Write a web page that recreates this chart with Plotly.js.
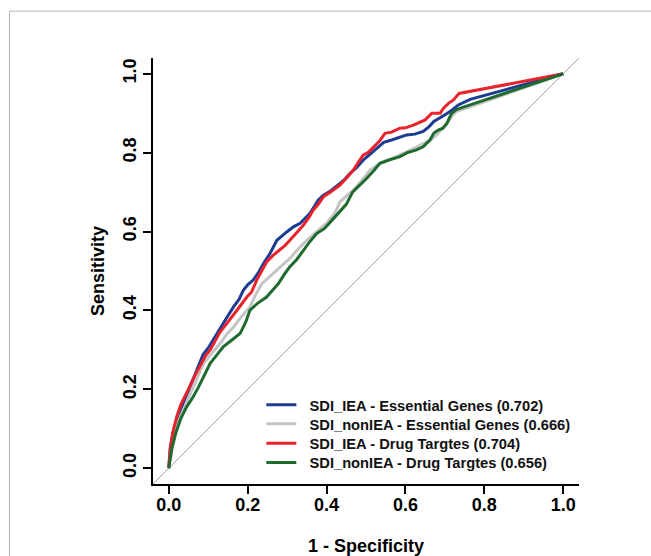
<!DOCTYPE html>
<html>
<head>
<meta charset="utf-8">
<script src="https://cdn.plot.ly/plotly-3.0.1.min.js"></script>
<style>html,body{margin:0;padding:0;background:#fff;}#chart{width:651px;height:556px;}</style>
</head>
<body>
<div id="chart"></div>
<script>
// ---- data ----
var seriesNames = [
  "SDI_IEA - Essential Genes (0.702)",
  "SDI_nonIEA - Essential Genes (0.666)",
  "SDI_IEA - Drug Targtes (0.704)",
  "SDI_nonIEA - Drug Targtes (0.656)"
];
var seriesColors = ["#1c3c94", "#c4c4c4", "#e8232b", "#1f6a2f"];

var fprIEAEss = [0, 0.004, 0.012, 0.022, 0.035, 0.05, 0.065, 0.077, 0.087, 0.1, 0.118, 0.13, 0.143, 0.164, 0.178, 0.189, 0.2, 0.214, 0.228, 0.240, 0.257, 0.274, 0.285, 0.299, 0.316, 0.333, 0.345, 0.358, 0.368, 0.379, 0.392, 0.41, 0.434, 0.447, 0.459, 0.476, 0.493, 0.51, 0.527, 0.545, 0.565, 0.582, 0.603, 0.624, 0.645, 0.66, 0.672, 0.692, 0.713, 0.734, 0.764, 1];
var tprIEAEss = [0, 0.055, 0.096, 0.13, 0.16, 0.198, 0.235, 0.262, 0.288, 0.305, 0.333, 0.355, 0.375, 0.409, 0.428, 0.451, 0.465, 0.477, 0.497, 0.519, 0.545, 0.578, 0.588, 0.599, 0.612, 0.621, 0.633, 0.646, 0.662, 0.680, 0.692, 0.703, 0.722, 0.733, 0.747, 0.762, 0.781, 0.795, 0.811, 0.826, 0.832, 0.837, 0.845, 0.847, 0.854, 0.866, 0.879, 0.891, 0.904, 0.921, 0.935, 1];

var fprNonEss = [0, 0.006, 0.015, 0.027, 0.04, 0.051, 0.065, 0.077, 0.088, 0.1, 0.115, 0.130, 0.147, 0.164, 0.185, 0.206, 0.22, 0.236, 0.255, 0.274, 0.29, 0.307, 0.328, 0.350, 0.375, 0.4, 0.42, 0.434, 0.45, 0.468, 0.49, 0.510, 0.527, 0.544, 0.57, 0.595, 0.62, 0.645, 0.665, 0.679, 0.692, 0.705, 0.718, 0.730, 0.76, 1];
var tprNonEss = [0, 0.05, 0.09, 0.125, 0.155, 0.181, 0.21, 0.24, 0.266, 0.28, 0.298, 0.316, 0.34, 0.358, 0.385, 0.409, 0.44, 0.468, 0.485, 0.502, 0.515, 0.532, 0.556, 0.578, 0.6, 0.621, 0.645, 0.675, 0.69, 0.705, 0.73, 0.756, 0.767, 0.777, 0.787, 0.798, 0.81, 0.823, 0.833, 0.845, 0.86, 0.874, 0.893, 0.905, 0.915, 1];

var fprIEADrug = [0, 0.004, 0.01, 0.02, 0.03, 0.041, 0.052, 0.066, 0.075, 0.084, 0.093, 0.105, 0.117, 0.13, 0.145, 0.164, 0.18, 0.198, 0.21, 0.223, 0.235, 0.248, 0.265, 0.282, 0.295, 0.307, 0.325, 0.341, 0.355, 0.366, 0.378, 0.392, 0.41, 0.434, 0.45, 0.468, 0.48, 0.493, 0.505, 0.519, 0.535, 0.548, 0.565, 0.586, 0.6, 0.620, 0.635, 0.650, 0.667, 0.688, 0.696, 0.709, 0.721, 0.728, 0.736, 1];
var tprIEADrug = [0, 0.05, 0.09, 0.13, 0.16, 0.181, 0.205, 0.234, 0.25, 0.266, 0.285, 0.3, 0.322, 0.345, 0.364, 0.388, 0.41, 0.434, 0.447, 0.477, 0.5, 0.523, 0.54, 0.553, 0.565, 0.578, 0.598, 0.616, 0.635, 0.654, 0.668, 0.688, 0.700, 0.718, 0.735, 0.756, 0.775, 0.794, 0.8, 0.815, 0.83, 0.849, 0.852, 0.862, 0.863, 0.870, 0.876, 0.883, 0.900, 0.900, 0.912, 0.925, 0.933, 0.94, 0.950, 1];

var fprNonDrug = [0, 0.008, 0.018, 0.03, 0.045, 0.062, 0.075, 0.09, 0.105, 0.12, 0.138, 0.16, 0.181, 0.195, 0.206, 0.225, 0.248, 0.262, 0.278, 0.292, 0.307, 0.325, 0.341, 0.358, 0.375, 0.395, 0.414, 0.43, 0.45, 0.466, 0.48, 0.502, 0.52, 0.535, 0.56, 0.586, 0.605, 0.628, 0.645, 0.662, 0.672, 0.683, 0.695, 0.705, 0.717, 0.730, 0.764, 1];
var tprNonDrug = [0, 0.05, 0.09, 0.125, 0.155, 0.181, 0.205, 0.236, 0.266, 0.285, 0.308, 0.325, 0.342, 0.37, 0.401, 0.418, 0.434, 0.45, 0.468, 0.49, 0.511, 0.53, 0.553, 0.575, 0.595, 0.608, 0.629, 0.648, 0.669, 0.70, 0.713, 0.735, 0.755, 0.773, 0.782, 0.790, 0.800, 0.807, 0.815, 0.832, 0.85, 0.857, 0.862, 0.874, 0.900, 0.910, 0.921, 1];

var tickVals = [0, 0.2, 0.4, 0.6, 0.8, 1.0];
var tickText = ["0.0", "0.2", "0.4", "0.6", "0.8", "1.0"];

// ---- traces ----
var legendIds = ["legend", "legend2", "legend3", "legend4"];
var xs = [fprIEAEss, fprNonEss, fprIEADrug, fprNonDrug];
var ys = [tprIEAEss, tprNonEss, tprIEADrug, tprNonDrug];
var traces = xs.map(function (x, i) {
  return {
    x: x, y: ys[i], type: "scatter", mode: "lines",
    name: "\u00a0\u00a0" + seriesNames[i],
    legend: legendIds[i],
    line: {color: seriesColors[i], width: 3},
    hoverinfo: "skip"
  };
});

var fontFam = "Liberation Sans, Arial, Helvetica, sans-serif";
var axisCommon = {
  range: [-0.04, 1.04], autorange: false, fixedrange: true,
  showgrid: false, zeroline: false,
  showline: true, linecolor: "#000", linewidth: 2,
  ticks: "outside", ticklen: 8, tickwidth: 2, tickcolor: "#000",
  tickvals: tickVals, ticktext: tickText,
  tickfont: {family: fontFam, size: 18, color: "#000", weight: "bold"}
};

function legendAt(yTop) {
  return {
    x: 0.2543, y: yTop, xanchor: "left", yanchor: "top",
    bgcolor: "rgba(0,0,0,0)", borderwidth: 0,
    font: {family: fontFam, size: 14.7, color: "#111", weight: "bold"},
    itemwidth: 30
  };
}

var layout = {
  width: 651, height: 556,
  margin: {l: 153, r: 72, t: 58, b: 72},
  paper_bgcolor: "#fff", plot_bgcolor: "#fff",
  showlegend: true,
  legend: legendAt(0.2236),
  legend2: legendAt(0.1790),
  legend3: legendAt(0.1336),
  legend4: legendAt(0.0881),
  xaxis: Object.assign({}, axisCommon, {
    ticklabelstandoff: -5,
    title: {text: "1 - Specificity", standoff: 30,
      font: {family: fontFam, size: 18, color: "#000", weight: "bold"}}
  }),
  yaxis: Object.assign({}, axisCommon, {
    tickangle: -90,
    title: {text: "Sensitivity", standoff: 10,
      font: {family: fontFam, size: 18, color: "#000", weight: "bold"}}
  }),
  shapes: [
    {type: "line", xref: "x domain", yref: "y domain", x0: 0, y0: 0, x1: 1, y1: 1,
     line: {color: "#a9a9a9", width: 1}, layer: "below"},
    {type: "rect", xref: "paper", yref: "paper",
     x0: -0.337, y0: -0.2, x1: 1.2, y1: 1.11,
     line: {color: "#b4b4b4", width: 1}, fillcolor: "rgba(0,0,0,0)", layer: "below"}
  ]
};

Plotly.newPlot("chart", traces, layout, {staticPlot: true, displayModeBar: false});
</script>
</body>
</html>
